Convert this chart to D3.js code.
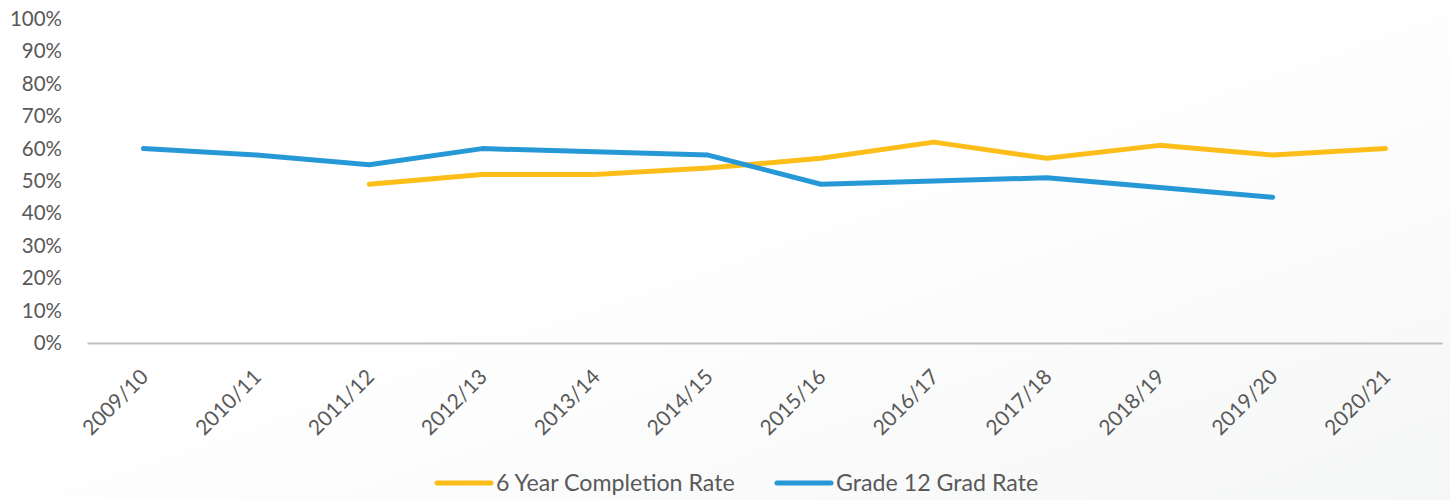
<!DOCTYPE html>
<html>
<head>
<meta charset="utf-8">
<script src="https://cdn.jsdelivr.net/npm/d3@7"></script>
<style>
  body { margin: 0; background: #fff; }
  svg { display: block; }
  svg text { font-family: Lato, "Open Sans", sans-serif; }
</style>
</head>
<body>
<div id="chart"></div>
<script>
// data
var years = ["2009/10", "2010/11", "2011/12", "2012/13", "2013/14", "2014/15",
             "2015/16", "2016/17", "2017/18", "2018/19", "2019/20", "2020/21"];
var completionRate = [null, null, 49, 52, 52, 54, 57, 62, 57, 61, 58, 60];
var gradRate = [60, 58, 55, 60, 59, 58, 49, 50, 51, 48, 45, null];
var yTicks = [0, 10, 20, 30, 40, 50, 60, 70, 80, 90, 100];
var seriesNames = ["6 Year Completion Rate", "Grade 12 Grad Rate"];
var seriesColors = ["#FDBE1A", "#2698D6"];

var W = 1450, H = 500;
var margin = {top: 19, right: 8, bottom: 157, left: 87},
    width = W - margin.left - margin.right,
    height = H - margin.top - margin.bottom;

var root = d3.select("#chart").append("svg")
    .attr("width", W)
    .attr("height", H);

// faint background gradient
var grad = root.append("defs").append("linearGradient")
    .attr("id", "bg").attr("x1", "0").attr("y1", "0").attr("x2", "1").attr("y2", "1");
grad.append("stop").attr("offset", "0.45").attr("stop-color", "#ffffff");
grad.append("stop").attr("offset", "1").attr("stop-color", "#f5f6f6");
root.append("rect").attr("width", W).attr("height", H).attr("fill", "url(#bg)");

var svg = root.append("g")
    .attr("transform", "translate(" + margin.left + "," + margin.top + ")");

var x = d3.scaleBand().domain(years).range([0, width]);
var y = d3.scaleLinear().domain([0, 100]).range([height, 0]);

// y axis labels
var yAxis = svg.append("g")
    .call(d3.axisLeft(y).tickValues(yTicks).tickFormat(function(d) { return d + "%"; }).tickSize(0).tickPadding(25));
yAxis.attr("font-family", null).attr("font-size", null);
yAxis.select(".domain").remove();
yAxis.selectAll("text").attr("fill", "#595959").style("font-size", "20.5px");

// x axis
var xAxis = svg.append("g")
    .attr("transform", "translate(0," + height + ")")
    .call(d3.axisBottom(x).tickSize(0).tickSizeOuter(0));
xAxis.attr("font-family", null).attr("font-size", null);
xAxis.select(".domain").attr("stroke", "#bfbfbf").attr("stroke-width", 2);
xAxis.selectAll("text")
    .attr("fill", "#595959")
    .style("font-size", "21px")
    .attr("text-anchor", "end")
    .attr("y", 0)
    .attr("dy", "0.35em")
    .attr("transform", "translate(1,30) rotate(-45)");

// lines
var line = d3.line()
    .defined(function(d) { return d != null; })
    .x(function(d, i) { return x(years[i]) + x.bandwidth() / 2; })
    .y(function(d) { return y(d); });

[completionRate, gradRate].forEach(function(s, k) {
  svg.append("path")
      .datum(s)
      .attr("fill", "none")
      .attr("stroke", seriesColors[k])
      .attr("stroke-width", 5)
      .attr("stroke-linecap", "round")
      .attr("stroke-linejoin", "round")
      .attr("d", line);
});

// legend
var legendX = [437, 777];
seriesNames.forEach(function(n, k) {
  var g = root.append("g").attr("transform", "translate(" + legendX[k] + ",483)");
  g.append("line").attr("x1", 0).attr("x2", 54)
      .attr("stroke", seriesColors[k]).attr("stroke-width", 5).attr("stroke-linecap", "round");
  g.append("text").attr("x", 59).attr("dy", "0.35em")
      .attr("fill", "#595959").style("font-size", "23.2px").text(n);
});
</script>
</body>
</html>
